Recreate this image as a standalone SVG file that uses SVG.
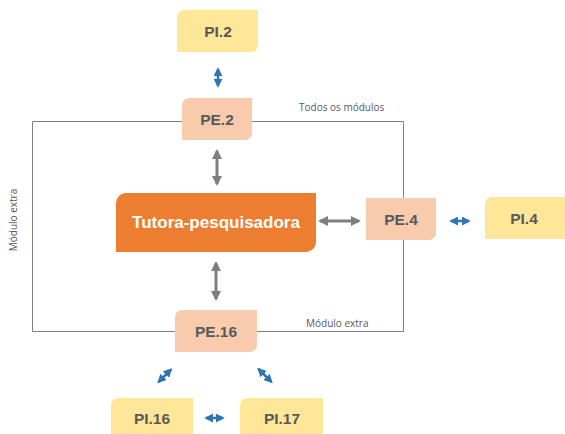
<svg xmlns="http://www.w3.org/2000/svg" width="565" height="434" viewBox="0 0 565 434">
<style>
.pe{fill:#F8CBAD}
.pi{fill:#FFE699}
.lbl{font-family:"Liberation Sans",Arial,sans-serif;font-weight:bold;font-size:15.5px;fill:#595959;text-anchor:middle;dominant-baseline:central}
.main{font-family:"Liberation Sans",Arial,sans-serif;font-weight:bold;font-size:17px;fill:#FFFFFF;text-anchor:middle;dominant-baseline:central}
.small{font-family:"Open Sans","DejaVu Sans",sans-serif;font-size:10px;fill:#595959}
.frame{fill:none;stroke:#808080;stroke-width:1}
.ga{stroke:#7F7F7F;stroke-width:3;fill:none;marker-start:url(#gh);marker-end:url(#gh)}
.ba{stroke:#2E75B6;stroke-width:2.5;fill:none;marker-start:url(#bh);marker-end:url(#bh)}
</style>
<defs>
<marker id="gh" viewBox="0 0 10 10" refX="8" refY="5" markerWidth="3.4" markerHeight="3.4" orient="auto-start-reverse" markerUnits="strokeWidth">
<path d="M0,0 L10,5 L0,10 Z" fill="#7F7F7F"/>
</marker>
<marker id="bh" viewBox="0 0 10 10" refX="8" refY="5" markerWidth="3.6" markerHeight="3.6" orient="auto-start-reverse" markerUnits="strokeWidth">
<path d="M0,0 L10,5 L0,10 Z" fill="#2E75B6"/>
</marker>
</defs>

<g id="frame">
<path class="frame" d="M182,121.5 H32.5 V331.5 H403.5 V121.5 H252"/>
<text class="small" x="299" y="111">Todos os módulos</text>
<text class="small" x="306" y="327">Módulo extra</text>
<text class="small" transform="translate(17,220) rotate(-90)" text-anchor="middle">Módulo extra</text>
</g>

<g id="connectors">
<line class="ba" x1="218" y1="69" x2="218" y2="86"/>
<line class="ga" x1="217" y1="151" x2="217" y2="184"/>
<line class="ga" x1="216" y1="263" x2="216" y2="299"/>
<line class="ga" x1="320" y1="221" x2="359" y2="221"/>
<line class="ba" x1="451" y1="221" x2="469" y2="221"/>
<line class="ba" x1="158.5" y1="382" x2="171" y2="369.5"/>
<line class="ba" x1="258.5" y1="369" x2="271.5" y2="382"/>
<line class="ba" x1="206" y1="418" x2="223" y2="418"/>
</g>

<g id="PI2">
<path class="pi" d="M184,10 H258 V45 A7,7 0 0 1 251,52 H177 V17 A7,7 0 0 1 184,10 Z"/>
<text class="lbl" x="218" y="31">PI.2</text>
</g>
<g id="PE2">
<path class="pe" d="M189,98 H252 V133 A7,7 0 0 1 245,140 H182 V105 A7,7 0 0 1 189,98 Z"/>
<text class="lbl" x="217" y="119">PE.2</text>
</g>
<g id="Tutora">
<path fill="#ED7D31" d="M126,193 H316 V242 A10,10 0 0 1 306,252 H116 V203 A10,10 0 0 1 126,193 Z"/>
<text class="main" x="216" y="222">Tutora-pesquisadora</text>
</g>
<g id="PE4">
<path class="pe" d="M366,198 H436 V233 A7,7 0 0 1 429,240 H366 Z"/>
<text class="lbl" x="401" y="219">PE.4</text>
</g>
<g id="PI4">
<path class="pi" d="M492,197 H566 V239 H485 V204 A7,7 0 0 1 492,197 Z"/>
<text class="lbl" x="524" y="218">PI.4</text>
</g>
<g id="PE16">
<path class="pe" d="M182,310 H257 V345 A7,7 0 0 1 250,352 H175 V317 A7,7 0 0 1 182,310 Z"/>
<text class="lbl" x="216" y="331">PE.16</text>
</g>
<g id="PI16">
<path class="pi" d="M118,398 H193 V440 H111 V405 A7,7 0 0 1 118,398 Z"/>
<text class="lbl" x="152" y="418">PI.16</text>
</g>
<g id="PI17">
<path class="pi" d="M247,398 H323 V440 H240 V405 A7,7 0 0 1 247,398 Z"/>
<text class="lbl" x="282" y="418">PI.17</text>
</g>
</svg>
